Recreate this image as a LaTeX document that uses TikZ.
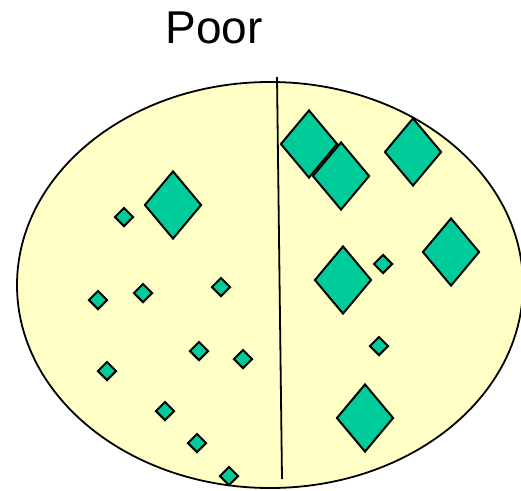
\documentclass[tikz,border=0pt]{standalone}
\usepackage{fontspec}
\setmainfont{Liberation Sans}
\usetikzlibrary{shapes.geometric}
\definecolor{bgyel}{HTML}{FFFFC6}
\definecolor{gem}{HTML}{00CC99}
\tikzset{
  big/.style={diamond, draw=black, line width=2pt, fill=gem, inner sep=0pt, minimum width=57pt, minimum height=68pt},
  small/.style={diamond, draw=black, line width=2pt, fill=gem, inner sep=0pt, minimum width=19pt, minimum height=19pt},
}
\begin{document}
\begin{tikzpicture}[x=1pt,y=-1pt]
\useasboundingbox (0,0) rectangle (521,490);
\begin{scope}
\clip (0,0) rectangle (521,490);
\draw[line width=1.8pt, fill=bgyel] (270,285) ellipse [x radius=253, y radius=203];
\end{scope}
\node (title) at (214,28) {\fontsize{46}{54}\selectfont Poor};
\coordinate (ltop) at (277,77);
\coordinate (lbot) at (282,479);
\draw[line width=1.8pt] (ltop) -- (lbot);
\node[big] (d1) at (173,205) {};
\node[big] (d2) at (309,144) {};
\node[big] (d3) at (341,176) {};
\node[big] (d4) at (413,152) {};
\node[big] (d5) at (451,252) {};
\node[big] (d6) at (343,280) {};
\node[big] (d7) at (365,418) {};
\node[small] (s1) at (124,217) {};
\node[small] (s2) at (98,300) {};
\node[small] (s3) at (143,293) {};
\node[small] (s4) at (221,287) {};
\node[small] (s5) at (107,371) {};
\node[small] (s6) at (199,351) {};
\node[small] (s7) at (243,359) {};
\node[small] (s8) at (165,411) {};
\node[small] (s9) at (197,443) {};
\node[small] (s10) at (229,476) {};
\node[small] (s11) at (383,264) {};
\node[small] (s12) at (379,346) {};
\end{tikzpicture}
\end{document}
